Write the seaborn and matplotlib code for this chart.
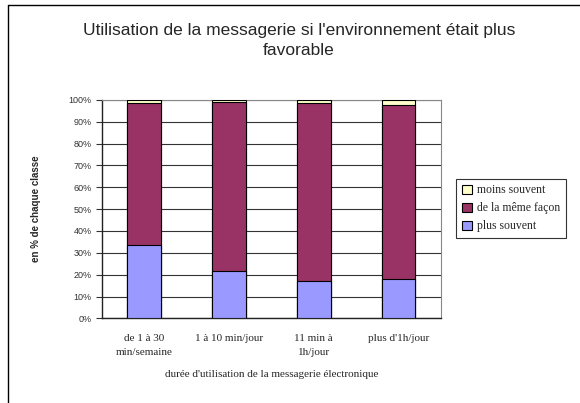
import numpy as np
import pandas as pd
import matplotlib
matplotlib.use("Agg")
import matplotlib.pyplot as plt
from matplotlib.lines import Line2D
from matplotlib.patches import Patch
import seaborn as sns

# data (percent of each class)
categories = ["de 1 à 30\nmin/semaine", "1 à 10 min/jour", "11 min à\n1h/jour", "plus d'1h/jour"]
plus_souvent = [33.4, 21.7, 17.2, 17.9]
meme_facon = [65.2, 77.2, 81.4, 79.8]
moins_souvent = [1.4, 1.1, 1.4, 2.3]

series_names = ["moins souvent", "de la même façon", "plus souvent"]
colors = {"plus souvent": "#9999FF", "de la même façon": "#993366", "moins souvent": "#FFFFCC"}

df = pd.DataFrame({"classe": categories,
                   "plus": plus_souvent,
                   "meme": meme_facon,
                   "moins": moins_souvent})
df["cum_meme"] = df["plus"] + df["meme"]
df["cum_moins"] = df["cum_meme"] + df["moins"]

sns.set_style("white")
plt.rcParams["font.family"] = ["Liberation Sans", "DejaVu Sans"]

fig = plt.figure(figsize=(5.8, 4.03), dpi=100)
ax = fig.add_axes([0.176, 0.210, 0.584, 0.542])

# stacked bars drawn as overlapping cumulative totals
for col, name in [("cum_moins", "moins souvent"), ("cum_meme", "de la même façon"), ("plus", "plus souvent")]:
    sns.barplot(data=df, x="classe", y=col, color=colors[name], saturation=1,
                width=0.4, edgecolor="black", linewidth=0.8, ax=ax, zorder=3)

ax.set_ylim(0, 100)
ax.set_xlim(-0.5, 3.5)
ax.set_yticks(np.arange(0, 101, 10))
ax.set_yticklabels([f"{v}%" for v in range(0, 101, 10)], fontsize=6.5, color="#333333")
ax.yaxis.grid(True, color="#333333", linewidth=0.8, zorder=0)
ax.set_axisbelow(True)

ax.set_xticks(range(4))
ax.set_xticklabels(categories, fontsize=8, family="Liberation Serif", linespacing=1.7)
ax.tick_params(axis="x", length=0, pad=11)
# minor ticks between categories
ax.set_xticks([0.5, 1.5, 2.5, 3.5], minor=True)
ax.tick_params(axis="x", which="minor", length=4, direction="out", width=0.8, color="#333333")
ax.tick_params(axis="y", length=4, direction="out", width=0.8, color="#333333", left=True)

for s in ["left", "bottom"]:
    ax.spines[s].set_color("#222222")
    ax.spines[s].set_linewidth(1.0)
for s in ["top", "right"]:
    ax.spines[s].set_color("#888888")
    ax.spines[s].set_linewidth(0.8)

ax.set_xlabel("durée d'utilisation de la messagerie électronique", fontsize=8,
              family="Liberation Serif", labelpad=10)
ax.set_ylabel("en % de chaque classe", fontsize=7, fontweight="bold", labelpad=20)

fig.suptitle("Utilisation de la messagerie si l'environnement était plus\nfavorable",
             x=0.515, y=0.942, fontsize=12.5, linespacing=1.4)

handles = [Patch(facecolor=colors[n], edgecolor="black", linewidth=0.8) for n in series_names]
leg = fig.legend(handles, series_names, loc="upper left", bbox_to_anchor=(0.787, 0.557),
                 frameon=True, fancybox=False, prop={"family": "Liberation Serif", "size": 8.5},
                 handlelength=0.8, handleheight=0.8, handletextpad=0.4, borderpad=0.5,
                 labelspacing=0.5, borderaxespad=0)
leg.get_frame().set_edgecolor("black")
leg.get_frame().set_linewidth(0.8)

# outer chart frame (cropped on right and bottom in the reference)
fig.add_artist(Line2D([8 / 580, 8 / 580], [0, 1 - 5 / 403], color="black", linewidth=1.0))
fig.add_artist(Line2D([8 / 580, 1], [1 - 5 / 403, 1 - 5 / 403], color="black", linewidth=1.0))

fig.savefig("out.png", dpi=100)
